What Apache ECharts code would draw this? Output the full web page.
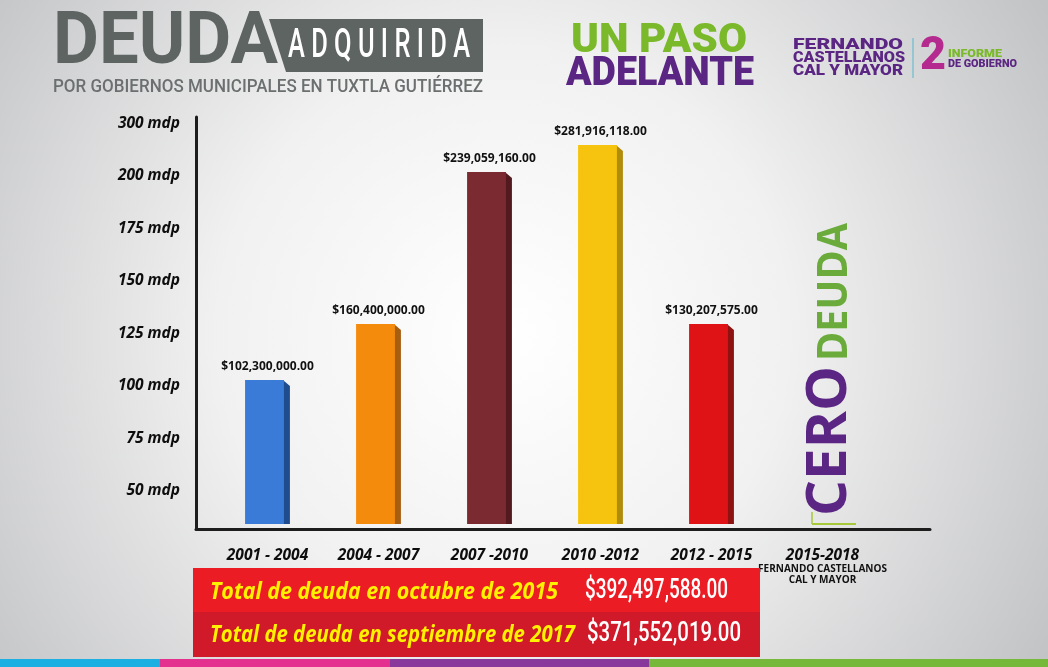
<!DOCTYPE html>
<html>
<head>
<meta charset="utf-8">
<script src="https://cdn.jsdelivr.net/npm/echarts@6.0.0/dist/echarts.min.js"></script>
<style>
  html, body { margin: 0; padding: 0; }
  #main { width: 1048px; height: 667px; }
</style>
</head>
<body>
<div id="main"></div>
<script>
// datos
var categorias = ['2001 - 2004', '2004 - 2007', '2007 -2010', '2010 -2012', '2012 - 2015', '2015-2018'];
// altura de cada barra tal como se dibuja contra el eje (mdp)
var alturas = [102.9, 129.5, 201.9, 214.8, 129.5];
// monto real que se escribe sobre cada barra
var montos = [102300000.00, 160400000.00, 239059160.00, 281916118.00, 130207575.00];
var tickValores = [50, 75, 100, 125, 150, 175, 200, 225];
var tickEtiquetas = ['50 mdp', '75 mdp', '100 mdp', '125 mdp', '150 mdp', '175 mdp', '200 mdp', '300 mdp'];
var totalEtiquetas = ['Total de deuda en octubre de 2015', 'Total de deuda en septiembre de 2017'];
var totalMontos = [392497588.00, 371552019.00];

var coloresFrente = ['#3a7bd8', '#f58b0c', '#7c2a31', '#f6c40e', '#df1316'];
var coloresLado = ['#1f4c8f', '#a65e10', '#521a1f', '#b18c0a', '#8e1212'];

var yMin = 31.9, yMax = 228.1;

function dinero(v) {
    return '$' + v.toLocaleString('en-US', { minimumFractionDigits: 2, maximumFractionDigits: 2 });
}

// escala horizontal para que un texto ocupe el ancho medido en la imagen
var ctx = document.createElement('canvas').getContext('2d');
function ajuste(texto, font, ancho) {
    ctx.font = font;
    return ancho / ctx.measureText(texto).width;
}

function texto(t, x, y, font, color, ancho, extra) {
    var el = {
        type: 'text', x: x, y: y, z: 10,
        scaleX: ancho ? ajuste(t, font, ancho) : 1,
        style: { text: t, font: font, fill: color, align: 'left', verticalAlign: 'middle' }
    };
    if (extra) { for (var k in extra) el[k] = extra[k]; }
    return el;
}

var chartDom = document.getElementById('main');
var myChart = echarts.init(chartDom);
var option;

var fDeuda = 'bold 72px Roboto';
var fCero = 'bold 56px "Open Sans"';
var fDeuda2 = 'bold 42px "Open Sans"';

var graficos = [
    // encabezado
    texto('DEUDA', 53, 45, fDeuda, '#5e6462', 225),
    { type: 'polygon', z: 9, shape: { points: [[269, 19], [483, 19], [483, 72], [286, 72]] }, style: { fill: '#5e6462' } },
    texto('A D Q U I R I D A', 288, 47, '500 40px Roboto', '#ffffff', 182),
    texto('POR GOBIERNOS MUNICIPALES EN TUXTLA GUTIÉRREZ', 53, 87, '500 19px Roboto', '#6b6f6f', 430),
    texto('UN PASO', 571, 42, '900 40px Roboto', '#7ab929', 176),
    texto('ADELANTE', 566, 75, '900 40px Roboto', '#5b2583', 188),
    texto('FERNANDO', 793, 45, '900 15px Roboto', '#5b2583', 110),
    texto('CASTELLANOS', 793, 58, '900 15px Roboto', '#5b2583', 112),
    texto('CAL Y MAYOR', 793, 71, '900 15px Roboto', '#5b2583', 110),
    { type: 'line', z: 10, shape: { x1: 913, y1: 38, x2: 913, y2: 78 }, style: { stroke: '#7fc0d0', lineWidth: 1.5 } },
    texto('2', 920, 57, '900 46px Roboto', '#b42a8e', 26),
    texto('INFORME', 948, 54, '900 11px Roboto', '#7ab929', 54),
    texto('DE GOBIERNO', 948, 64, '900 11px Roboto', '#5b2583', 69),

    // cero deuda
    texto('CERO', 830, 516, fCero, '#5b2583', null, { rotation: Math.PI / 2, scaleX: ajuste('CERO', fCero, 150) }),
    texto('DEUDA', 835, 361, fDeuda2, '#6aab3c', null, { rotation: Math.PI / 2, scaleX: ajuste('DEUDA', fDeuda2, 138) }),
    { type: 'line', z: 10, shape: { x1: 812, y1: 524, x2: 856, y2: 524 }, style: { stroke: '#a6c93a', lineWidth: 2 } },
    { type: 'line', z: 10, shape: { x1: 812, y1: 512, x2: 812, y2: 524 }, style: { stroke: '#a6c93a', lineWidth: 1.5 } },

    // tabla de totales
    { type: 'rect', z: 9, shape: { x: 193, y: 568, width: 567, height: 44 }, style: { fill: '#ec1c24' } },
    { type: 'rect', z: 9, shape: { x: 193, y: 612, width: 567, height: 45 }, style: { fill: '#d01a29' } },

    // franja inferior
    { type: 'rect', z: 9, shape: { x: 0, y: 659, width: 160, height: 8 }, style: { fill: '#1cb0e2' } },
    { type: 'rect', z: 9, shape: { x: 160, y: 659, width: 230, height: 8 }, style: { fill: '#e4308e' } },
    { type: 'rect', z: 9, shape: { x: 390, y: 659, width: 259, height: 8 }, style: { fill: '#88399b' } },
    { type: 'rect', z: 9, shape: { x: 649, y: 659, width: 399, height: 8 }, style: { fill: '#76b83a' } }
];

var filasY = [592, 635];
var anchosEtiqueta = [348, 365];
var anchosMonto = [143, 154];
var xMonto = [585, 587];
totalEtiquetas.forEach(function (t, i) {
    graficos.push(texto(t, 210, filasY[i], 'italic bold 24px "Open Sans"', '#fff200', anchosEtiqueta[i]));
    graficos.push(texto(dinero(totalMontos[i]), xMonto[i], filasY[i] - 1, '500 28px Roboto', '#ffffff', anchosMonto[i]));
});

option = {
    backgroundColor: {
        type: 'radial', x: 0.48, y: 0.5, r: 0.95,
        colorStops: [
            { offset: 0, color: '#ffffff' },
            { offset: 0.45, color: '#f1f1f1' },
            { offset: 1, color: '#c2c3c5' }
        ]
    },
    textStyle: { fontFamily: '"Open Sans", sans-serif' },
    grid: [
        { left: 196, right: 118, top: 117, bottom: 138 },
        { left: 212, right: 170, top: 117, bottom: 138 }
    ],
    xAxis: [
        {
            gridIndex: 0, type: 'value', min: 0, max: 1,
            axisLine: { show: true, lineStyle: { color: '#1d1d1d', width: 3 } },
            axisTick: { show: false }, axisLabel: { show: false }, splitLine: { show: false }
        },
        {
            gridIndex: 1, type: 'category', data: categorias,
            axisLine: { show: false }, axisTick: { show: false },
            axisLabel: {
                margin: 18,
                interval: 0,
                formatter: function (v, i) {
                    if (i === 5) return '{a|' + v + '}\n{b|FERNANDO CASTELLANOS}\n{b|CAL Y MAYOR}';
                    return '{a|' + v + '}';
                },
                rich: {
                    a: { fontSize: 15.5, fontWeight: 'bold', fontStyle: 'italic', color: '#0d0d0d', lineHeight: 17, fontFamily: '"Open Sans"' },
                    b: { fontSize: 10, fontWeight: 'bold', color: '#111', lineHeight: 11, fontFamily: '"Open Sans"' }
                }
            }
        }
    ],
    yAxis: [
        {
            gridIndex: 0, type: 'value', min: yMin, max: yMax,
            axisLine: { show: true, lineStyle: { color: '#1d1d1d', width: 3 } },
            axisTick: { show: false }, splitLine: { show: false },
            axisLabel: {
                customValues: tickValores,
                margin: 16,
                fontSize: 15.5, fontWeight: 'bold', fontStyle: 'italic', color: '#0d0d0d',
                formatter: function (v) {
                    var k = tickValores.indexOf(Math.round(v));
                    return k >= 0 ? tickEtiquetas[k] : '';
                }
            }
        },
        { gridIndex: 1, type: 'value', min: yMin, max: yMax, show: false }
    ],
    graphic: graficos,
    series: [
        {
            type: 'custom',
            xAxisIndex: 1,
            yAxisIndex: 1,
            data: alturas.map(function (v, i) { return [i, v]; }),
            renderItem: function (params, api) {
                var i = api.value(0);
                var top = api.coord([i, api.value(1)]);
                var base = api.coord([i, yMin]);
                var banda = api.size([1, 0])[0];
                var w = banda * 0.35;
                var d = 6;
                var x0 = top[0] - (w + d) / 2;
                var x1 = x0 + w;
                var y0 = top[1];
                var y1 = base[1] - 5;
                return {
                    type: 'group',
                    children: [
                        {
                            type: 'polygon',
                            shape: { points: [[x1 - 1, y0], [x1 + d, y0 + d], [x1 + d, y1], [x1 - 1, y1]] },
                            style: { fill: coloresLado[i] }
                        },
                        {
                            type: 'rect',
                            shape: { x: x0, y: y0, width: w, height: y1 - y0 },
                            style: { fill: coloresFrente[i] }
                        },
                        {
                            type: 'text',
                            style: {
                                text: dinero(montos[i]),
                                x: (x0 + x1 + d) / 2, y: y0 - 13,
                                align: 'center', verticalAlign: 'middle',
                                font: 'bold 12px "Open Sans"', fill: '#111'
                            }
                        }
                    ]
                };
            }
        }
    ]
};

option && myChart.setOption(option);
</script>
</body>
</html>
